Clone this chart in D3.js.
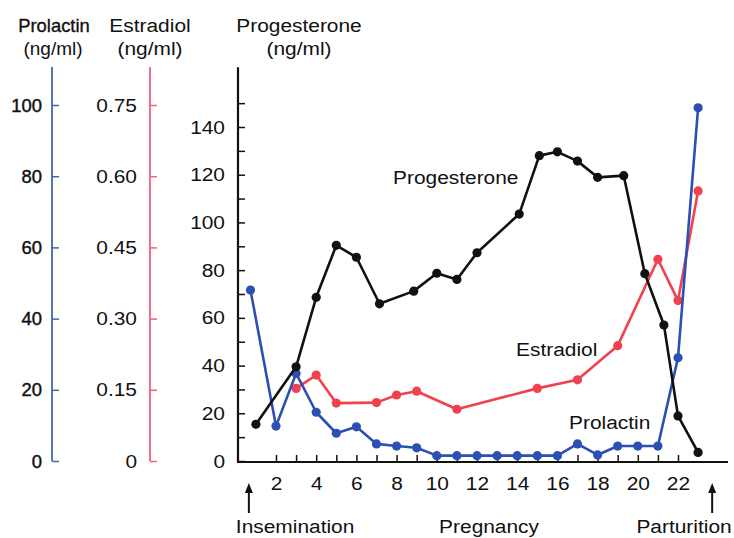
<!DOCTYPE html>
<html>
<head>
<meta charset="utf-8">
<script src="https://cdn.jsdelivr.net/npm/d3@7"></script>
<style>
  body { margin: 0; background: #fff; }
  svg { font-family: "Liberation Sans", Arial, sans-serif; }
  text { fill: #111; }
</style>
</head>
<body>
<div id="chart"></div>
<script>
// weeks after insemination
var progWeeks = [1, 3, 4, 5, 6, 7.15, 8.85, 10, 11, 12, 14.1, 15.1, 16, 17, 18, 19.3, 20.35, 21.3, 22, 23];
var progesterone = [15.4, 39.5, 68.6, 90.4, 85.4, 65.9, 71.2, 78.7, 76.1, 87.3, 103.5, 128, 129.6, 125.7, 118.9, 119.6, 78.5, 57, 18.9, 3.6];

var estWeeks = [3, 4, 5, 7, 8, 9, 11, 15, 17, 19, 21, 22, 23];
var estradiol = [0.153, 0.181, 0.122, 0.123, 0.139, 0.147, 0.109, 0.153, 0.171, 0.243, 0.425, 0.338, 0.569];

var prlWeeks = [0.73, 2, 3, 4, 5, 6, 7, 8, 9, 10, 11, 12, 13, 14, 15, 16, 17, 18, 19, 20, 21, 22, 23];
var prolactin = [48, 9.8, 24.6, 13.7, 7.8, 9.6, 4.8, 4.2, 3.7, 1.5, 1.5, 1.5, 1.5, 1.5, 1.5, 1.5, 4.8, 1.7, 4.2, 4.2, 4.2, 29, 99.2];

var progTicks = [0, 20, 40, 60, 80, 100, 120, 140];
var prlTicks = [0, 20, 40, 60, 80, 100];
var estTicks = [0, 0.15, 0.30, 0.45, 0.60, 0.75];
var weekTicks = [2, 4, 6, 8, 10, 12, 14, 16, 18, 20, 22];

var events = [
  {name: 'Insemination', week: 0.65, labelWeek: 2.95, arrow: true},
  {name: 'Pregnancy', week: 12.6, labelWeek: 12.6, arrow: false},
  {name: 'Parturition', week: 23.7, labelWeek: 22.3, arrow: true}
];

var width = 734, height = 538;
var blue = '#2c4fb4', red = '#f0424e';
var FS = '19px', SX = 1.1;   // the original type is a bit wide

var svg = d3.select('#chart').append('svg')
  .attr('width', width)
  .attr('height', height);

var x = d3.scaleLinear().domain([2, 22]).range([276, 678]);
var yProg = d3.scaleLinear().domain([0, 140]).range([461, 127]);
var yPrl = d3.scaleLinear().domain([0, 100]).range([461, 105]);
var yEst = d3.scaleLinear().domain([0, 0.75]).range([461, 105]);

function label(tx, ty, str, anchor, sx) {
  sx = sx || SX;
  return svg.append('text')
    .attr('transform', 'translate(' + tx + ',' + ty + ') scale(' + sx + ',1)')
    .attr('text-anchor', anchor || 'start')
    .style('font-size', FS)
    .text(str);
}

function styleTicks(g, col, pad, sx) {
  sx = sx || SX;
  g.select('.domain').remove();
  g.selectAll('.tick line').attr('stroke', col).attr('stroke-width', 1.5);
  g.selectAll('.tick text')
    .style('font-size', FS).attr('fill', '#111')
    .style('font-family', '"Liberation Sans", Arial, sans-serif')
    .attr('transform', 'scale(' + sx + ',1)');
  if (pad) g.selectAll('.tick text').attr('x', -pad / sx);
}

// left axes (prolactin, estradiol)
function sideAxis(scale, ticks, xpos, col, fmt, pad, topVal, sx) {
  var g = svg.append('g').attr('transform', 'translate(' + xpos + ',0)');
  g.call(d3.axisLeft(scale).tickValues(ticks).tickFormat(fmt)
    .tickSizeInner(-7).tickSizeOuter(0).tickPadding(pad));
  styleTicks(g, col, pad, sx);
  g.append('line')
    .attr('y1', scale(0)).attr('y2', scale(topVal))
    .attr('stroke', col).attr('stroke-width', 1.8);
  return g;
}

var gPrl = sideAxis(yPrl, prlTicks, 52, '#3b6aa6', d3.format('d'), 10, 110.7, 0.97);
gPrl.selectAll('.tick text').attr('stroke', '#111').attr('stroke-width', 0.45);
sideAxis(yEst, estTicks, 150, '#f0607e', function(d) { return d === 0 ? '0' : d3.format('.2f')(d); }, 13, 0.83);

// progesterone axis
var gp = svg.append('g').attr('transform', 'translate(238,0)');
gp.call(d3.axisLeft(yProg).tickValues(d3.range(0, 151, 10))
  .tickFormat(function(d) { return progTicks.indexOf(d) >= 0 ? d : ''; })
  .tickSizeInner(-7).tickSizeOuter(0).tickPadding(13));
styleTicks(gp, '#111', 13);
gp.append('line').attr('y1', yProg(0) + 1).attr('y2', yProg(165))
  .attr('stroke', '#111').attr('stroke-width', 2.2);

// x axis
var gx = svg.append('g').attr('transform', 'translate(0,462)');
gx.call(d3.axisBottom(x).tickValues(d3.range(2, 23, 1))
  .tickFormat(function(d) { return weekTicks.indexOf(d) >= 0 ? d : ''; })
  .tickSizeInner(-7).tickSizeOuter(0).tickPadding(15));
styleTicks(gx, '#111', 0);
gx.append('line').attr('x1', 237).attr('x2', 728)
  .attr('stroke', '#111').attr('stroke-width', 2.2);

// axis titles
label(54, 32, 'Prolactin', 'middle', 0.97).attr('stroke', '#111').attr('stroke-width', 0.35);
label(53, 55, '(ng/ml)', 'middle', 1.0);
label(150, 32, 'Estradiol', 'middle');
label(150, 55, '(ng/ml)', 'middle');
label(299, 32, 'Progesterone', 'middle');
label(299, 55, '(ng/ml)', 'middle');

// series
function series(weeks, vals, yScale, col) {
  var pts = weeks.map(function(w, i) { return [x(w), yScale(vals[i])]; });
  svg.append('path')
    .attr('d', d3.line()(pts))
    .attr('fill', 'none').attr('stroke', col)
    .attr('stroke-width', 2.6).attr('stroke-linejoin', 'round');
  svg.selectAll(null).data(pts).enter().append('circle')
    .attr('cx', function(d) { return d[0]; })
    .attr('cy', function(d) { return d[1]; })
    .attr('r', 4.6).attr('fill', col);
}

series(estWeeks, estradiol, yEst, red);
series(prlWeeks, prolactin, yPrl, blue);
series(progWeeks, progesterone, yProg, '#111');

// series labels
label(393, 184, 'Progesterone');
label(516, 356, 'Estradiol');
label(569, 429, 'Prolactin');

// events below the axis
svg.append('defs').append('marker')
  .attr('id', 'ah').attr('viewBox', '0 0 10 10').attr('refX', 5).attr('refY', 5)
  .attr('markerWidth', 5).attr('markerHeight', 5).attr('orient', 'auto')
  .append('path').attr('d', 'M0,1 L10,5 L0,9 z').attr('fill', '#111');

events.forEach(function(e) {
  if (e.arrow) {
    svg.append('line')
      .attr('x1', x(e.week)).attr('x2', x(e.week))
      .attr('y1', 513).attr('y2', 488)
      .attr('stroke', '#111').attr('stroke-width', 2)
      .attr('marker-end', 'url(#ah)');
  }
  label(x(e.labelWeek), 533, e.name, 'middle');
});
</script>
</body>
</html>
